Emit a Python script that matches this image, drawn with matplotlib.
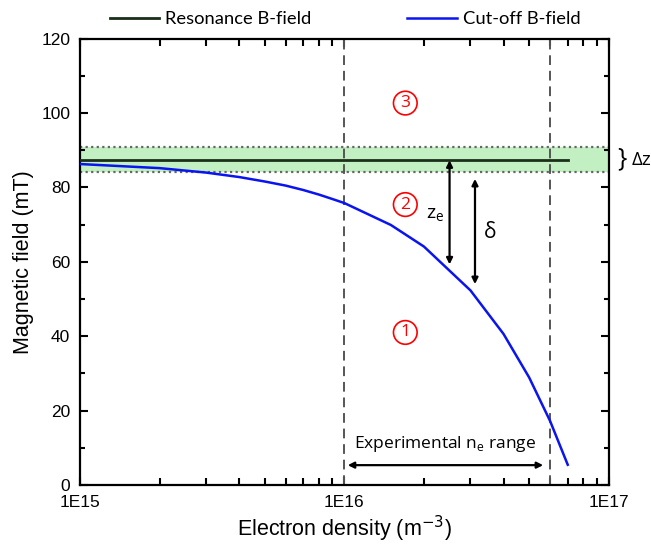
import matplotlib
matplotlib.use("Agg")
import matplotlib.pyplot as plt
import numpy as np
from matplotlib.ticker import FixedLocator, LogLocator, MultipleLocator, NullFormatter

# cut-off field (mT) vs electron density (m^-3)
density = [1e15, 2e15, 3e15, 4e15, 5e15, 6e15, 7e15, 8e15, 9e15,
           1e16, 1.5e16, 2e16, 3e16, 4e16, 5e16, 6e16, 7e16]
cutoff_field = [86.3, 85.2, 84.0, 82.8, 81.6, 80.5, 79.3, 78.1, 76.9,
                75.8, 69.9, 64.1, 52.3, 40.6, 28.9, 17.2, 5.4]

resonance_x = [1e15, 7e16]
resonance_field = [87.5, 87.5]

band_low, band_high = 84.2, 90.9
exp_range = [1e16, 6e16]

axfont = "Liberation Sans"
annfont = "Open Sans"
legfont = "Lato"

fig = plt.figure(figsize=(6.51, 5.46), dpi=100)
ax = fig.add_axes([0.123, 0.112, 0.812, 0.817])

ax.axhspan(band_low, band_high, facecolor="#c3f0c3", edgecolor="none", zorder=1)
ax.axhline(band_low, color="#666666", ls=(0, (1, 1.5)), lw=1.6, zorder=2)
ax.axhline(band_high, color="#666666", ls=(0, (1, 1.5)), lw=1.6, zorder=2)

for xv in exp_range:
    ax.axvline(xv, color="#555555", ls=(0, (5, 3)), lw=1.4, zorder=2)

l1, = ax.plot(resonance_x, resonance_field, color="#1a2e1a", lw=2, zorder=3,
              label="Resonance B-field")
l2, = ax.plot(density, cutoff_field, color="#0a14f0", lw=1.8, zorder=4,
              label="Cut-off B-field")

ax.set_xscale("log")
ax.set_xlim(1e15, 1e17)
ax.set_ylim(0, 120)
ax.xaxis.set_major_locator(FixedLocator([1e15, 1e16, 1e17]))
ax.set_xticklabels(["1E15", "1E16", "1E17"])
ax.xaxis.set_minor_locator(LogLocator(base=10, subs=np.arange(2, 10)))
ax.xaxis.set_minor_formatter(NullFormatter())
ax.yaxis.set_major_locator(MultipleLocator(20))
ax.yaxis.set_minor_locator(MultipleLocator(10))

ax.tick_params(which="both", direction="in", top=True, right=True, width=1.5)
ax.tick_params(which="major", length=6, labelsize=12.5, pad=7)
ax.tick_params(which="minor", length=3.5)
ax.tick_params(axis="x", which="minor", length=5)
for lab in ax.get_xticklabels() + ax.get_yticklabels():
    lab.set_fontfamily(axfont)
for sp in ax.spines.values():
    sp.set_linewidth(1.6)

ax.set_xlabel("Electron density (m$^{-3}$)", fontsize=15.5, family=axfont, labelpad=3)
ax.set_ylabel("Magnetic field (mT)", fontsize=15.5, family=axfont, labelpad=5)

# circled region labels
for num, yv in [("3", 102.7), ("2", 75.4), ("1", 41.0)]:
    ax.text(1.7e16, yv, num, color="red", fontsize=12.5, family=annfont,
            ha="center", va="center",
            bbox=dict(boxstyle="circle,pad=0.22", fc="none", ec="red", lw=1.2))

arrow = dict(arrowstyle="<|-|>", color="black", lw=1.6, mutation_scale=9,
             shrinkA=0, shrinkB=0)
ax.annotate("", xy=(2.5e16, 87.3), xytext=(2.5e16, 59.3), arrowprops=arrow)
ax.annotate("", xy=(3.12e16, 82.3), xytext=(3.12e16, 54.0), arrowprops=arrow)
ax.annotate("", xy=(1.03e16, 5.3), xytext=(5.65e16, 5.3), arrowprops=arrow)

ax.text(2.2e16, 72.5, "z$_\\mathregular{e}$", fontsize=14, family=annfont,
        ha="center", va="center")
ax.text(3.55e16, 68, "δ", fontsize=15, family=annfont, ha="center", va="center")
ax.text(2.4e16, 11.0, "Experimental n$_\\mathregular{e}$ range", fontsize=12.5,
        family=annfont, ha="center", va="center")

ax.text(1.024, 87.6, "}", transform=ax.get_yaxis_transform(), fontsize=18,
        family=annfont, ha="center", va="center")
ax.text(1.062, 87.3, "Δz", transform=ax.get_yaxis_transform(), fontsize=13.5,
        family=annfont, ha="center", va="center")

fig.legend(handles=[l1, l2], loc="upper center", bbox_to_anchor=(0.53, 1.01),
           ncol=2, frameon=False, prop={"family": legfont, "size": 13.2},
           handlelength=2.7, handletextpad=0.35, columnspacing=5.2)

fig.savefig("out.png", dpi=100)
